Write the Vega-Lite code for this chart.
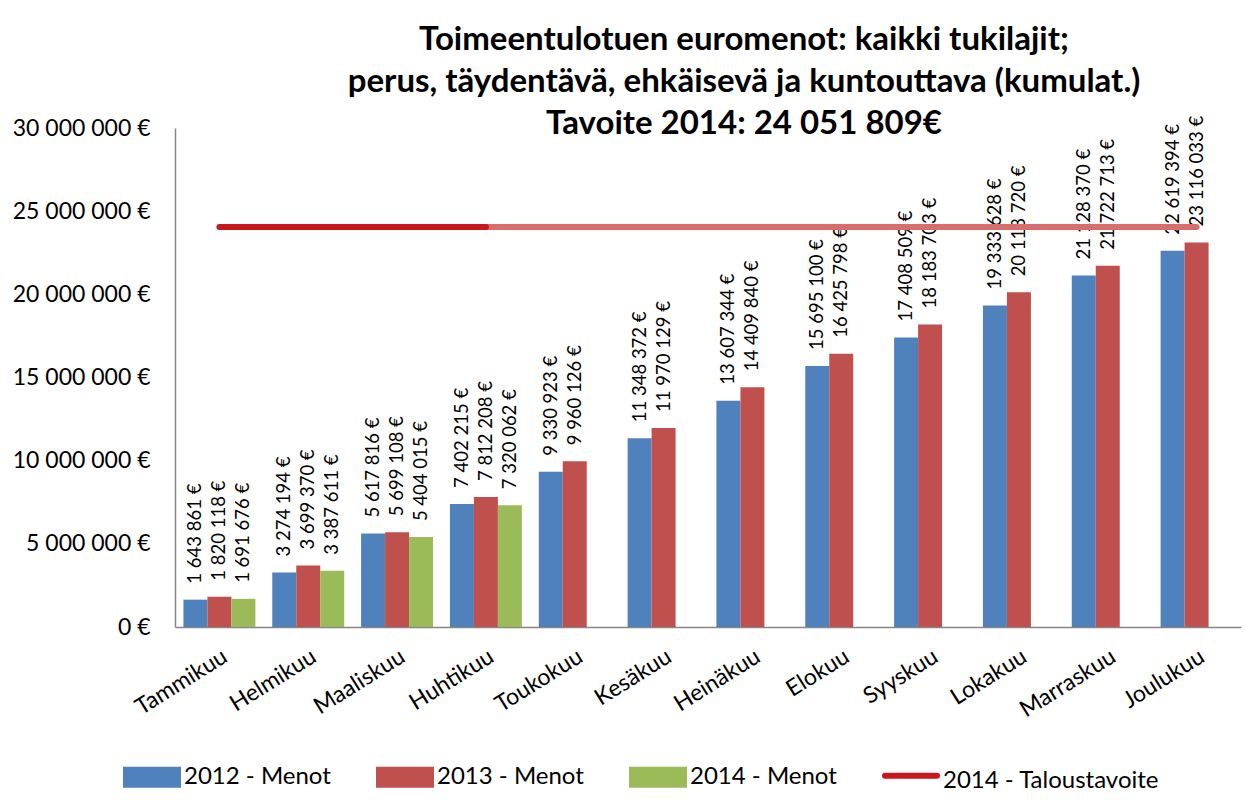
{
  "$schema": "https://vega.github.io/schema/vega-lite/v6.json",
  "width": 1066,
  "height": 499,
  "autosize": {"type": "none"},
  "padding": {"left": 175, "top": 128, "right": 13, "bottom": 184},
  "background": "white",
  "config": {
    "locale": {"number": {"decimal": ",", "thousands": " ", "grouping": [3], "currency": ["", " €"]}},
    "view": {"stroke": null},
    "font": "Lato"
  },
  "title": {
    "text": ["Toimeentulotuen euromenot: kaikki tukilajit;", "perus, täydentävä, ehkäisevä ja kuntouttava (kumulat.)", "Tavoite 2014: 24 051 809€"],
    "fontSize": 33,
    "font": "Lato",
    "fontWeight": "bold",
    "lineHeight": 42,
    "anchor": "middle",
    "dx": 36,
    "offset": -58,
    "baseline": "bottom",
    "color": "black"
  },
  "datasets": {
    "bars": [
      {"month": "Tammikuu", "series": "2012 - Menot", "value": 1643861},
      {"month": "Helmikuu", "series": "2012 - Menot", "value": 3274194},
      {"month": "Maaliskuu", "series": "2012 - Menot", "value": 5617816},
      {"month": "Huhtikuu", "series": "2012 - Menot", "value": 7402215},
      {"month": "Toukokuu", "series": "2012 - Menot", "value": 9330923},
      {"month": "Kesäkuu", "series": "2012 - Menot", "value": 11348372},
      {"month": "Heinäkuu", "series": "2012 - Menot", "value": 13607344},
      {"month": "Elokuu", "series": "2012 - Menot", "value": 15695100},
      {"month": "Syyskuu", "series": "2012 - Menot", "value": 17408509},
      {"month": "Lokakuu", "series": "2012 - Menot", "value": 19333628},
      {"month": "Marraskuu", "series": "2012 - Menot", "value": 21128370},
      {"month": "Joulukuu", "series": "2012 - Menot", "value": 22619394},
      {"month": "Tammikuu", "series": "2013 - Menot", "value": 1820118},
      {"month": "Helmikuu", "series": "2013 - Menot", "value": 3699370},
      {"month": "Maaliskuu", "series": "2013 - Menot", "value": 5699108},
      {"month": "Huhtikuu", "series": "2013 - Menot", "value": 7812208},
      {"month": "Toukokuu", "series": "2013 - Menot", "value": 9960126},
      {"month": "Kesäkuu", "series": "2013 - Menot", "value": 11970129},
      {"month": "Heinäkuu", "series": "2013 - Menot", "value": 14409840},
      {"month": "Elokuu", "series": "2013 - Menot", "value": 16425798},
      {"month": "Syyskuu", "series": "2013 - Menot", "value": 18183703},
      {"month": "Lokakuu", "series": "2013 - Menot", "value": 20118720},
      {"month": "Marraskuu", "series": "2013 - Menot", "value": 21722713},
      {"month": "Joulukuu", "series": "2013 - Menot", "value": 23116033},
      {"month": "Tammikuu", "series": "2014 - Menot", "value": 1691676},
      {"month": "Helmikuu", "series": "2014 - Menot", "value": 3387611},
      {"month": "Maaliskuu", "series": "2014 - Menot", "value": 5404015},
      {"month": "Huhtikuu", "series": "2014 - Menot", "value": 7320062}
    ],
    "target": [
      {"month": "Tammikuu", "series": "2014 - Taloustavoite", "segment": "a", "value": 24051809},
      {"month": "Helmikuu", "series": "2014 - Taloustavoite", "segment": "a", "value": 24051809},
      {"month": "Maaliskuu", "series": "2014 - Taloustavoite", "segment": "a", "value": 24051809},
      {"month": "Huhtikuu", "series": "2014 - Taloustavoite", "segment": "a", "value": 24051809},
      {"month": "Huhtikuu", "series": "2014 - Taloustavoite", "segment": "b", "value": 24051809},
      {"month": "Toukokuu", "series": "2014 - Taloustavoite", "segment": "b", "value": 24051809},
      {"month": "Kesäkuu", "series": "2014 - Taloustavoite", "segment": "b", "value": 24051809},
      {"month": "Heinäkuu", "series": "2014 - Taloustavoite", "segment": "b", "value": 24051809},
      {"month": "Elokuu", "series": "2014 - Taloustavoite", "segment": "b", "value": 24051809},
      {"month": "Syyskuu", "series": "2014 - Taloustavoite", "segment": "b", "value": 24051809},
      {"month": "Lokakuu", "series": "2014 - Taloustavoite", "segment": "b", "value": 24051809},
      {"month": "Marraskuu", "series": "2014 - Taloustavoite", "segment": "b", "value": 24051809},
      {"month": "Joulukuu", "series": "2014 - Taloustavoite", "segment": "b", "value": 24051809}
    ]
  },
  "layer": [
    {
      "data": {"name": "bars"},
      "mark": {"type": "bar"},
      "encoding": {
        "x": {
          "field": "month", "type": "nominal", "title": null,
          "scale": {"domain": ["Tammikuu", "Helmikuu", "Maaliskuu", "Huhtikuu", "Toukokuu", "Kesäkuu", "Heinäkuu", "Elokuu", "Syyskuu", "Lokakuu", "Marraskuu", "Joulukuu"], "paddingInner": 0.19, "paddingOuter": 0.095},
          "axis": {"labelAngle": -32, "labelAlign": "right", "labelBaseline": "top", "labelFont": "Lato", "labelFontSize": 23, "labelColor": "black", "ticks": false, "domainColor": "#868686", "domainWidth": 1.5, "labelPadding": 18}
        },
        "xOffset": {
          "field": "series", "type": "nominal",
          "scale": {"domain": ["2012 - Menot", "2013 - Menot", "2014 - Menot"], "paddingInner": 0, "paddingOuter": 0}
        },
        "y": {
          "field": "value", "type": "quantitative", "title": null,
          "scale": {"domain": [0, 30000000], "nice": false},
          "axis": {"values": [0, 5000000, 10000000, 15000000, 20000000, 25000000, 30000000], "format": "$,.0f", "labelFont": "Lato", "labelFontSize": 23, "labelColor": "black", "ticks": false, "grid": false, "domainColor": "#868686", "domainWidth": 1.5, "labelPadding": 25}
        },
        "color": {
          "field": "series", "type": "nominal",
          "scale": {"domain": ["2012 - Menot", "2013 - Menot", "2014 - Menot", "2014 - Taloustavoite"], "range": ["#4F81BD", "#C0504D", "#9BBB59", "#C8171D"]},
          "legend": {
            "orient": "none", "legendX": -52, "legendY": 620, "direction": "horizontal", "title": null,
            "labelFont": "Lato", "labelFontSize": 24, "labelColor": "black", "labelOffset": 3, "columnPadding": 36, "labelLimit": 500,
            "symbolSize": 2704, "symbolType": "M-1,-0.29H1V0.29H-1Z",
            "encode": {
              "symbols": {
                "update": {
                  "shape": {"signal": "datum.value === '2014 - Taloustavoite' ? 'M-1,-0.2H1' : 'M-1,-0.29H1V0.29H-1Z'"},
                  "fill": {"signal": "datum.value === '2014 - Taloustavoite' ? 'transparent' : scale('color', datum.value)"},
                  "stroke": {"signal": "datum.value === '2014 - Taloustavoite' ? '#D03A3A' : 'transparent'"},
                  "strokeWidth": {"value": 6},
                  "strokeCap": {"value": "round"},
                  "opacity": {"value": 1}
                }
              }
            }
          }
        }
      }
    },
    {
      "data": {"name": "bars"},
      "mark": {"type": "text", "angle": 270, "align": "left", "baseline": "middle", "dx": 16, "fontSize": 18.5, "font": "Lato", "color": "black"},
      "encoding": {
        "x": {"field": "month", "type": "nominal"},
        "xOffset": {"field": "series", "type": "nominal"},
        "y": {"field": "value", "type": "quantitative"},
        "text": {"field": "value", "type": "quantitative", "format": "$,.0f"}
      }
    },
    {
      "data": {"name": "target"},
      "transform": [{"filter": "datum.segment === 'b'"}],
      "mark": {"type": "line", "color": "#DB6C6C", "strokeWidth": 6, "strokeCap": "round"},
      "encoding": {
        "x": {"field": "month", "type": "nominal"},
        "y": {"field": "value", "type": "quantitative"}
      }
    },
    {
      "data": {"name": "target"},
      "transform": [{"filter": "datum.segment === 'a'"}],
      "mark": {"type": "line", "strokeWidth": 6, "strokeCap": "round"},
      "encoding": {
        "x": {"field": "month", "type": "nominal"},
        "y": {"field": "value", "type": "quantitative"},
        "color": {"field": "series", "type": "nominal"}
      }
    }
  ]
}
